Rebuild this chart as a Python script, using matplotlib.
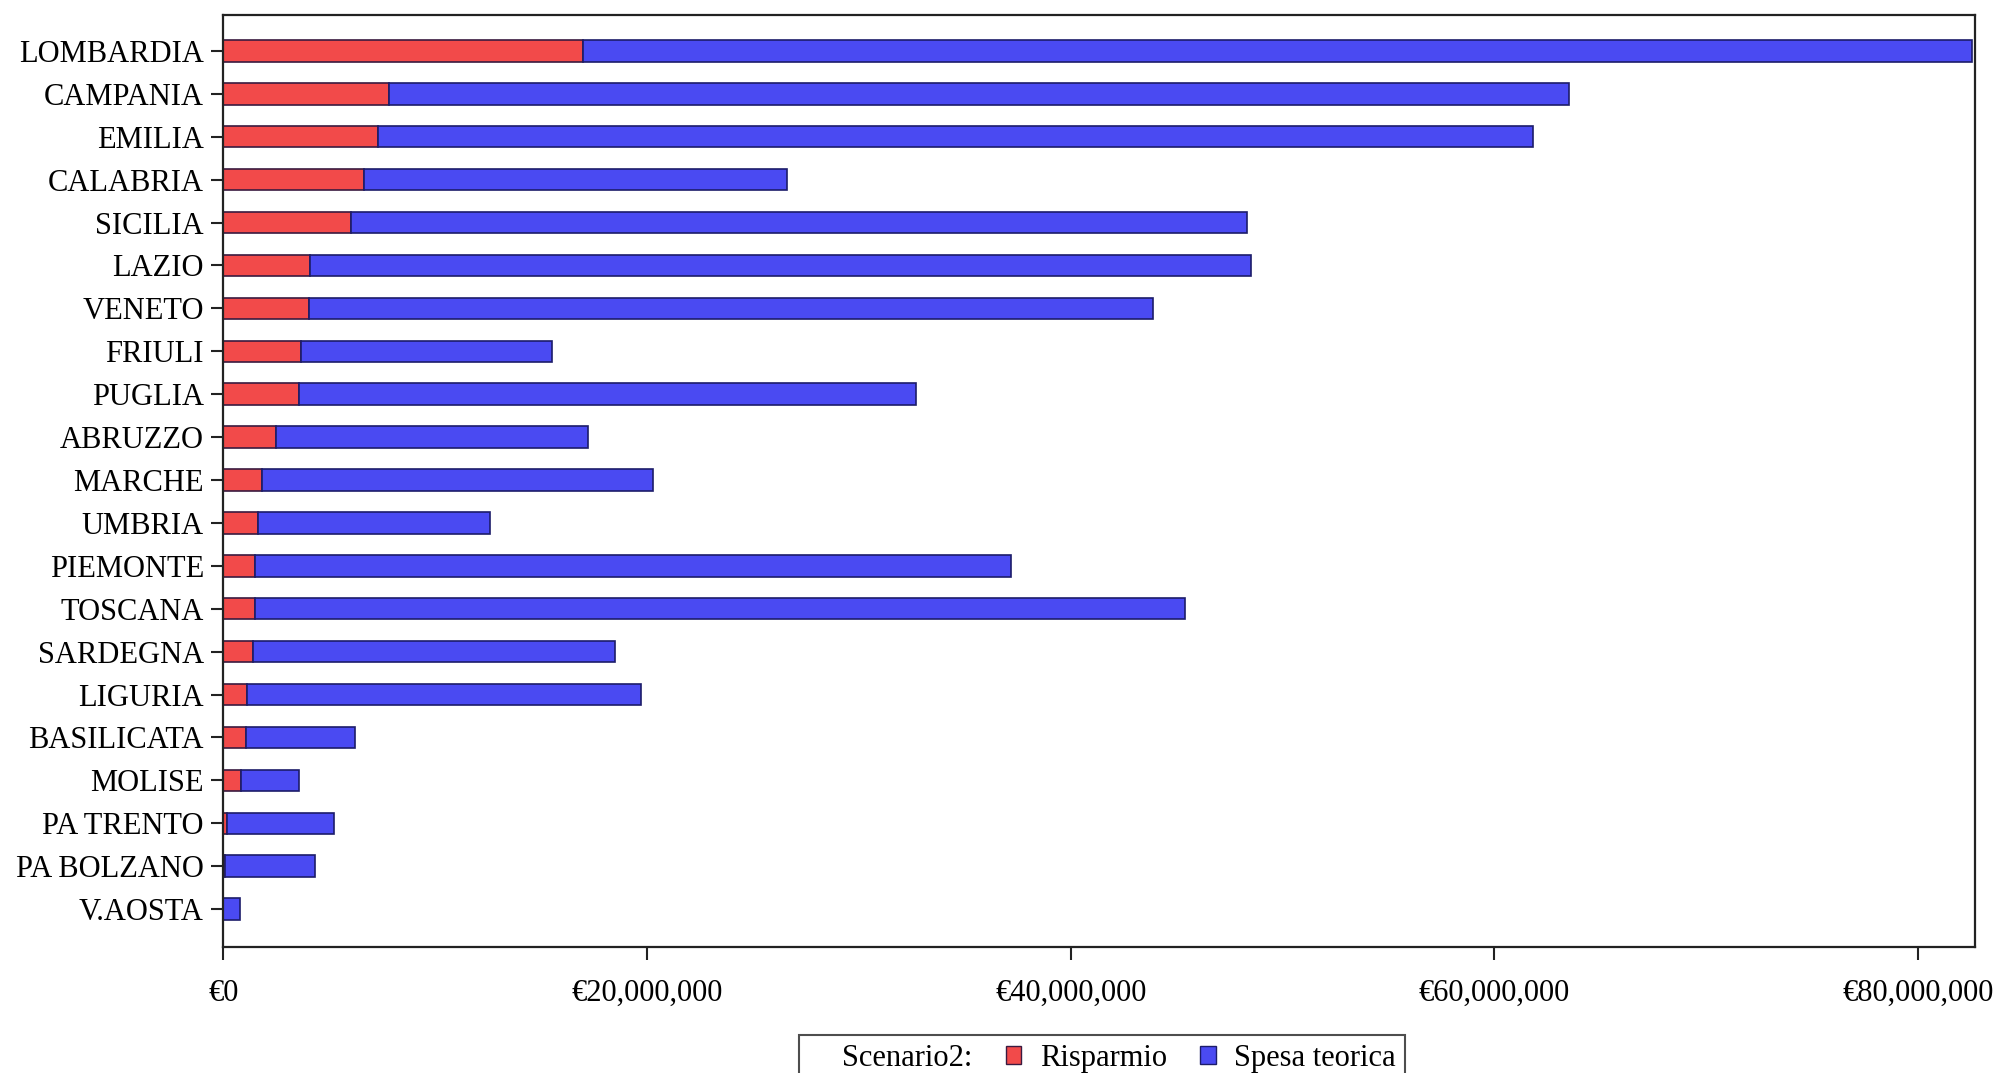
import numpy as np
import matplotlib
matplotlib.use("Agg")
from matplotlib import pyplot as plt
from matplotlib.patches import Rectangle
from matplotlib.ticker import FuncFormatter

regioni = ['LOMBARDIA', 'CAMPANIA', 'EMILIA', 'CALABRIA', 'SICILIA', 'LAZIO', 'VENETO',
           'FRIULI', 'PUGLIA', 'ABRUZZO', 'MARCHE', 'UMBRIA', 'PIEMONTE', 'TOSCANA',
           'SARDEGNA', 'LIGURIA', 'BASILICATA', 'MOLISE', 'PA TRENTO', 'PA BOLZANO', 'V.AOSTA']

# milioni di euro
risparmio = [16.98, 7.83, 7.28, 6.62, 6.02, 4.09, 4.03, 3.67, 3.55, 2.47, 1.81,
             1.63, 1.50, 1.50, 1.38, 1.14, 1.08, 0.84, 0.18, 0.06, 0.0]
spesa_teorica = [65.55, 55.67, 54.52, 19.98, 42.28, 44.41, 39.87, 11.83, 29.15, 14.73, 18.49,
                 10.97, 35.70, 43.90, 17.12, 18.56, 5.12, 2.71, 5.06, 4.27, 0.78]

plt.rcParams['font.family'] = ['Liberation Serif', 'DejaVu Serif']

fig = plt.figure(figsize=(20.01, 10.73), dpi=100)
ax = fig.add_axes([0.1116, 0.1176, 0.8756, 0.8681])

y = np.arange(len(regioni))
r = np.array(risparmio) * 1e6
s = np.array(spesa_teorica) * 1e6

ax.barh(y, r, height=0.5, color='#f24a4a', edgecolor='#3a1a40', linewidth=1.2)
ax.barh(y, s, left=r, height=0.5, color='#4a4af2', edgecolor='#1c1c6a', linewidth=1.2)

ax.set_yticks(y)
ax.set_yticklabels(regioni)
ax.set_ylim(20.88, -0.83)
ax.set_xlim(0, 82.7e6)
ax.set_xticks([0, 20e6, 40e6, 60e6, 80e6])
ax.xaxis.set_major_formatter(FuncFormatter(lambda v, p: '€{:,.0f}'.format(v)))

ax.tick_params(axis='both', labelsize=22, length=9, width=1.5, color='#222222', pad=5)
ax.tick_params(axis='x', pad=14)
for sp in ax.spines.values():
    sp.set_linewidth(1.6)
    sp.set_color('#222222')

hdr = Rectangle((0, 0), 1, 1, visible=False)
h1 = Rectangle((0, 0), 1, 1, facecolor='#f24a4a', edgecolor='#3a1a40', linewidth=1)
h2 = Rectangle((0, 0), 1, 1, facecolor='#4a4af2', edgecolor='#1c1c6a', linewidth=1)
leg = fig.legend([hdr, h1, h2], ['Scenario2:', 'Risparmio', 'Spesa teorica'],
                 loc='upper center', bbox_to_anchor=(0.5507, 0.0356), ncol=3,
                 fontsize=22, frameon=True, fancybox=False, edgecolor='#222222',
                 handlelength=0.5, handleheight=0.5, handletextpad=0.6,
                 columnspacing=1.1, borderpad=0.3, borderaxespad=0)
leg.get_frame().set_linewidth(1.5)

fig.savefig('out.png', dpi=100)
